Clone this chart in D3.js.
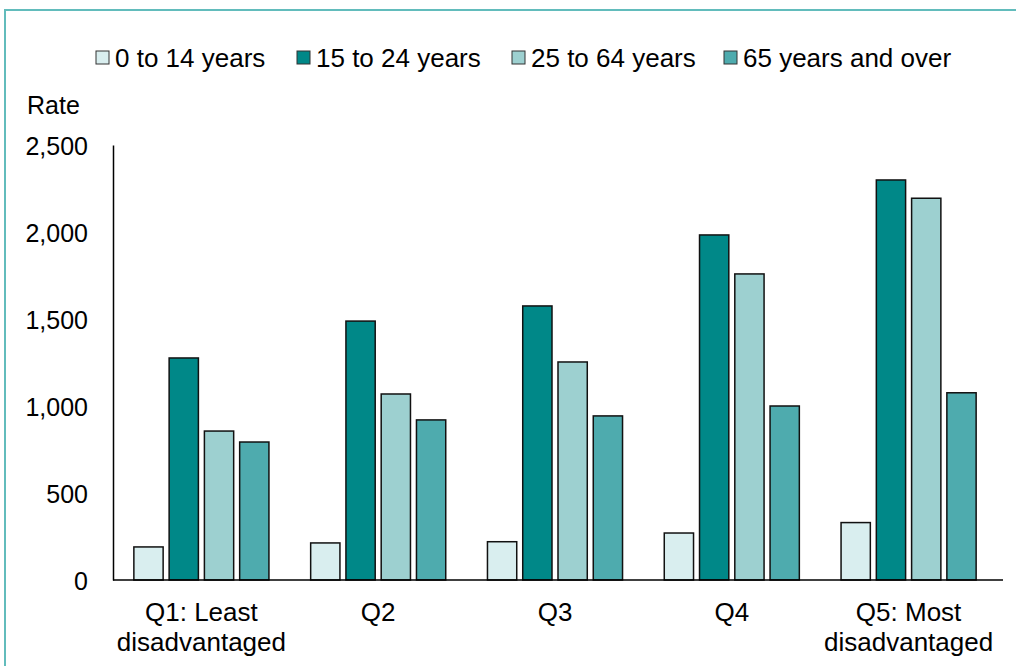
<!DOCTYPE html>
<html lang="en">
<head>
<meta charset="utf-8">
<title>Rate by quintile</title>
<script src="https://cdn.jsdelivr.net/npm/d3@7"></script>
<style>
  body { margin: 0; background: #fff; }
  text { font-family: "Liberation Sans", Arial, sans-serif; fill: #000; }
</style>
</head>
<body>
<script>
// data
var quintiles = ["Q1: Least|disadvantaged", "Q2", "Q3", "Q4", "Q5: Most|disadvantaged"];
var ageGroups = ["0 to 14 years", "15 to 24 years", "25 to 64 years", "65 years and over"];
var age0to14  = [190, 213, 220, 270, 330];
var age15to24 = [1276, 1488, 1575, 1983, 2299];
var age25to64 = [856, 1069, 1253, 1759, 2194];
var age65plus = [793, 920, 943, 1000, 1076];
var yTicks = [0, 500, 1000, 1500, 2000, 2500];
var colors = ["#d9eeef", "#008888", "#9dd0d0", "#4eabae"];

var seriesValues = [age0to14, age15to24, age25to64, age65plus];

var w = 1016, h = 666;
var svg = d3.select("body").append("svg")
    .attr("width", w)
    .attr("height", h);

// frame
svg.append("rect")
    .attr("x", 5).attr("y", 10)
    .attr("width", w + 20).attr("height", h + 20)
    .attr("fill", "none")
    .attr("stroke", "#62bcbc")
    .attr("stroke-width", 2);

//scales
var x0 = d3.scaleBand()
    .domain(quintiles)
    .range([113, 997])
    .paddingInner(0.236)
    .paddingOuter(0.118);

var x1 = d3.scaleBand()
    .domain(ageGroups)
    .range([0, x0.bandwidth()])
    .paddingInner(0.17);

var y = d3.scaleLinear()
    .domain([0, 2500])
    .range([580, 145]);

// y axis
var yAxis = d3.axisLeft(y)
    .tickValues(yTicks)
    .tickSize(0)
    .tickPadding(25)
    .tickFormat(d3.format(","));
var gy = svg.append("g")
    .attr("transform", "translate(113,0)")
    .call(yAxis);
gy.select(".domain").attr("stroke", "#000").attr("stroke-width", 1.5);
gy.selectAll("text").attr("font-size", "25px").attr("dy", "0.36em");

svg.append("text")
    .attr("x", 27).attr("y", 114)
    .attr("font-size", "25px")
    .text("Rate");

// bars
var groups = svg.selectAll("g.quint")
    .data(quintiles)
    .enter()
    .append("g")
    .attr("class", "quint")
    .attr("transform", function (d) { return "translate(" + x0(d) + ",0)"; });

groups.selectAll("rect")
    .data(function (d, i) {
        return ageGroups.map(function (a, j) {
            return { key: a, value: seriesValues[j][i], color: colors[j] };
        });
    })
    .enter()
    .append("rect")
    .attr("x", function (d) { return x1(d.key); })
    .attr("y", function (d) { return y(d.value); })
    .attr("width", x1.bandwidth())
    .attr("height", function (d) { return y(0) - y(d.value); })
    .attr("fill", function (d) { return d.color; })
    .attr("stroke", "#111")
    .attr("stroke-width", 1.5);

// x axis
var xAxis = d3.axisBottom(x0).tickSize(0).tickFormat("");
var gx = svg.append("g")
    .attr("transform", "translate(0,580)")
    .call(xAxis);
gx.select(".domain").attr("stroke", "#000").attr("stroke-width", 1.5)
    .attr("d", "M113,0H1003");

svg.selectAll("text.xlab")
    .data(quintiles)
    .enter()
    .append("text")
    .attr("class", "xlab")
    .attr("text-anchor", "middle")
    .attr("font-size", "26px")
    .attr("x", function (d) { return x0(d) + x0.bandwidth() / 2; })
    .attr("y", 621)
    .each(function (d) {
        var lines = d.split("|");
        var t = d3.select(this);
        lines.forEach(function (l, i) {
            t.append("tspan")
                .attr("x", x0(d) + x0.bandwidth() / 2)
                .attr("dy", i === 0 ? 0 : 30)
                .text(l);
        });
    });

// legend
var legendX = [96, 297, 512, 724];
var legend = svg.selectAll("g.leg")
    .data(ageGroups)
    .enter()
    .append("g")
    .attr("class", "leg")
    .attr("transform", function (d, i) { return "translate(" + legendX[i] + ",51)"; });
legend.append("rect")
    .attr("width", 13).attr("height", 13)
    .attr("fill", function (d, i) { return colors[i]; })
    .attr("stroke", "#333")
    .attr("stroke-width", 1);
legend.append("text")
    .attr("x", 19).attr("y", 16)
    .attr("font-size", "26px")
    .text(function (d) { return d; });
</script>
</body>
</html>
